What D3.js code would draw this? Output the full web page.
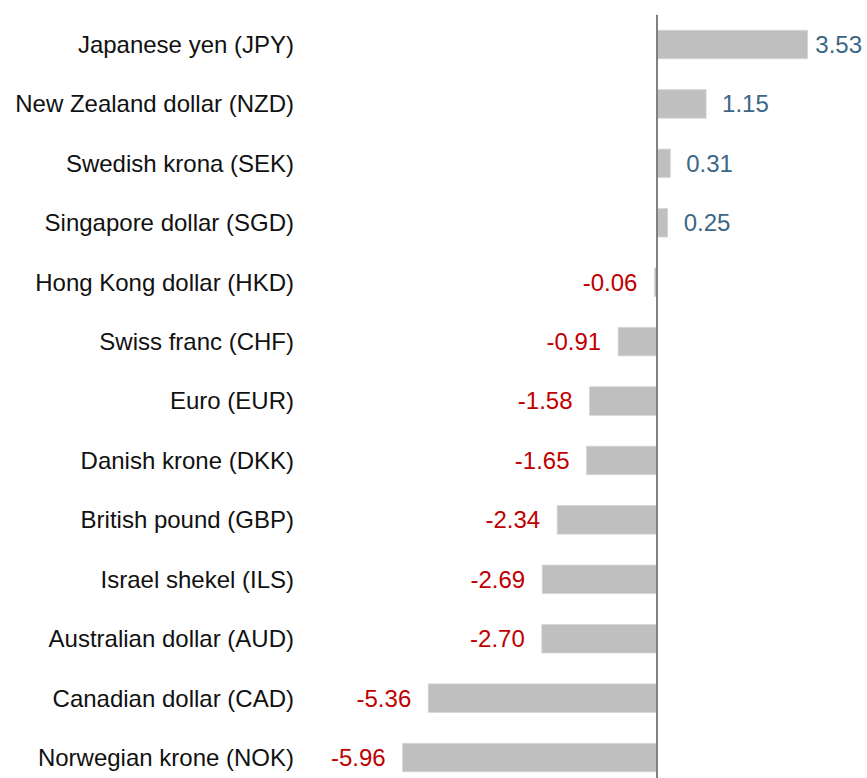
<!DOCTYPE html>
<html>
<head>
<meta charset="utf-8">
<script src="https://cdn.jsdelivr.net/npm/d3@7"></script>
<style>
  html, body { margin: 0; padding: 0; background: #fff; }
  svg { display: block; font-family: "Liberation Sans", Arial, sans-serif; }
</style>
</head>
<body>
<div id="chart"></div>
<script>
// currencies, top to bottom
let currencies = [
    'Japanese yen (JPY)', 'New Zealand dollar (NZD)', 'Swedish krona (SEK)',
    'Singapore dollar (SGD)', 'Hong Kong dollar (HKD)', 'Swiss franc (CHF)',
    'Euro (EUR)', 'Danish krone (DKK)', 'British pound (GBP)',
    'Israel shekel (ILS)', 'Australian dollar (AUD)', 'Canadian dollar (CAD)',
    'Norwegian krone (NOK)'
];
let changes = [3.53, 1.15, 0.31, 0.25, -0.06, -0.91, -1.58, -1.65, -2.34, -2.69, -2.70, -5.36, -5.96];

let width = 867;
let height = 778;

let svg = d3.select('#chart').append('svg')
    .attr('width', width)
    .attr('height', height);

let data = currencies.map((c, i) => ({ name: c, value: changes[i] }));

let x = d3.scaleLinear()
    .domain([-6, 4])
    .range([657 - 6 * 42.68, 657 + 4 * 42.68]);

let y = d3.scaleBand()
    .domain(currencies)
    .range([14.8, 14.8 + 59.42 * currencies.length])
    .paddingInner(0.52)
    .paddingOuter(0.26);

let rows = svg.selectAll('g.row')
    .data(data)
    .enter().append('g')
    .attr('class', 'row');

rows.append('rect')
    .attr('x', d => x(Math.min(0, d.value)))
    .attr('y', d => y(d.name))
    .attr('width', d => Math.abs(x(d.value) - x(0)))
    .attr('height', y.bandwidth())
    .attr('fill', '#bfbfbf')
    .attr('stroke', '#d6d6d6')
    .attr('stroke-width', 0.8);

// category labels
rows.append('text')
    .attr('x', 294)
    .attr('y', d => y(d.name) + y.bandwidth() / 2)
    .attr('dy', '0.35em')
    .attr('text-anchor', 'end')
    .attr('font-size', 24)
    .attr('fill', '#111')
    .text(d => d.name);

// value labels
rows.append('text')
    .attr('class', 'val')
    .attr('x', d => d.value >= 0 ? x(d.value) + 16 : x(d.value) - 17)
    .attr('y', d => y(d.name) + y.bandwidth() / 2)
    .attr('dy', '0.35em')
    .attr('text-anchor', d => d.value >= 0 ? 'start' : 'end')
    .attr('font-size', 24)
    .attr('fill', d => d.value >= 0 ? '#3c6685' : '#c00000')
    .text(d => d.value.toFixed(2))
    .each(function (d) {
        // keep the label inside the picture
        if (d.value >= 0) {
            let w = this.getComputedTextLength();
            let xPos = Math.min(x(d.value) + 16, width - 5 - w);
            d3.select(this).attr('x', xPos);
        }
    });

// zero line
svg.append('line')
    .attr('x1', x(0))
    .attr('x2', x(0))
    .attr('y1', 14.8)
    .attr('y2', height)
    .attr('stroke', '#808080')
    .attr('stroke-width', 2);
</script>
</body>
</html>
